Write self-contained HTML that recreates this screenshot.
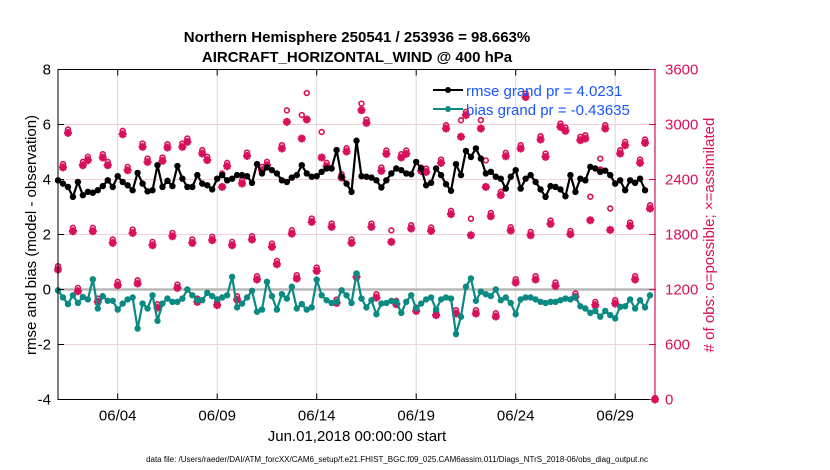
<!DOCTYPE html>
<html><head><meta charset="utf-8"><style>
body{margin:0;background:#fff;}
svg{display:block;font-family:"Liberation Sans",sans-serif;}
</style></head><body>
<svg id="chart" width="830" height="470" viewBox="0 0 830 470">
<text x="357" y="42" text-anchor="middle" font-size="15" font-weight="bold">Northern Hemisphere 250541 / 253936 = 98.663%</text>
<text x="357" y="62" text-anchor="middle" font-size="15" font-weight="bold">AIRCRAFT_HORIZONTAL_WIND @ 400 hPa</text>
<g id="grid"></g>
<g id="marks"></g>
<g id="axes"></g>
<text transform="translate(36,235) rotate(-90)" text-anchor="middle" font-size="15">rmse and bias (model - observation)</text>
<text transform="translate(714,235) rotate(-90)" text-anchor="middle" font-size="15" fill="#d80f5a"># of obs: o=possible; ×=assimilated</text>
<text x="357" y="441" text-anchor="middle" font-size="15">Jun.01,2018 00:00:00 start</text>
<text x="397" y="462" text-anchor="middle" font-size="8">data file: /Users/raeder/DAI/ATM_forcXX/CAM6_setup/f.e21.FHIST_BGC.f09_025.CAM6assim.011/Diags_NTrS_2018-06/obs_diag_output.nc</text>
<g>
<line x1="433" y1="90" x2="463" y2="90" stroke="#000" stroke-width="2"/>
<circle cx="448" cy="90" r="3" fill="#000"/>
<text x="466" y="96" font-size="15" fill="#1a55ff">rmse grand pr = 4.0231</text>
<line x1="433" y1="109" x2="463" y2="109" stroke="#0a8a82" stroke-width="2"/>
<circle cx="448" cy="109" r="3" fill="#0a8a82"/>
<text x="466" y="115" font-size="15" fill="#1a55ff">bias grand pr = -0.43635</text>
</g>
</svg>
<script>
const xTickLabels=["06/04","06/09","06/14","06/19","06/24","06/29"];
const xTickDays=[3,8,13,18,23,28];
const leftTicks=[-4,-2,0,2,4,6,8];
const rightTicks=[0,600,1200,1800,2400,3000,3600];
const rmse=[3.97,3.85,3.73,3.37,3.91,3.43,3.55,3.52,3.61,3.76,3.97,3.73,4.12,3.91,3.79,3.61,4.24,3.85,3.57,3.61,4.52,3.73,3.95,3.76,4.49,4.03,3.73,3.73,4.16,3.85,3.79,3.64,4.03,4.16,3.97,4.03,4.16,4.16,4.12,3.88,4.56,
4.22,4.44,4.34,4.22,3.97,3.91,4.07,4.16,4.52,4.22,4.1,4.12,4.28,4.4,4.4,5.07,4.1,3.85,3.55,5.41,4.12,4.1,4.07,3.97,3.71,3.97,4.22,4.4,4.34,4.22,4.19,4.64,4.4,3.79,3.88,4.4,4.16,3.83,3.59,
4.56,4.16,5.04,4.82,5.13,4.76,4.22,4.28,4.1,4.03,3.67,4.1,4.34,3.67,4.03,4.16,3.91,3.64,3.37,3.76,3.73,3.64,3.39,4.16,3.55,4.03,3.97,4.46,4.4,4.28,4.32,4.16,3.85,3.97,3.61,3.97,3.88,4.03,3.61];
const bias=[-0.03,-0.29,-0.53,-0.21,-0.49,-0.27,-0.36,0.37,-0.69,-0.24,-0.41,-0.41,-0.73,-0.51,-0.36,-0.29,-1.42,-0.51,-0.69,-0.21,-1.14,-0.51,-0.33,-0.45,-0.45,-0.33,0.0,-0.21,-0.39,-0.39,-0.12,-0.24,-0.36,-0.29,-0.21,0.46,-0.65,-0.51,-0.29,-0.05,-0.81,
-0.73,0.28,-0.24,-0.73,-0.17,-0.33,0.1,-0.69,-0.53,-0.73,-0.65,0.36,-0.21,-0.39,-0.49,-0.45,-0.03,-0.21,-0.49,0.58,-0.33,-0.65,-0.39,-0.9,-0.51,-0.49,-0.41,-0.45,-0.85,-0.45,-0.21,-0.69,-0.51,-0.36,-0.29,-0.73,-0.36,-0.29,-0.33,-1.62,
-0.99,0.1,0.4,-0.41,-0.08,-0.17,-0.24,0.0,-0.39,-0.29,-0.49,-0.9,-0.36,-0.29,-0.29,-0.36,-0.45,-0.49,-0.45,-0.45,-0.39,-0.33,-0.36,-0.27,-0.61,-0.69,-0.85,-0.78,-0.99,-0.78,-0.93,-1.05,-0.63,-0.61,-0.36,-0.69,-0.39,-0.65,-0.21];
const assimilated=[1418,2532,2909,1836,1181,2556,2611,1836,1065,2640,2556,1709,1247,2894,2501,1818,1265,2756,2592,1683,1003,2603,2749,1781,1218,2756,2811,1709,1065,2684,2611,1738,1029,2319,2545,1683,1090,2356,2658,1745,1309,
2501,2556,1665,1476,2738,3029,1810,1320,2847,3054,1938,1403,2640,2545,1883,1054,2421,2705,1709,1338,3156,3018,1883,1112,2494,2680,1720,1040,2640,2680,1865,967,2494,2483,1840,920,2581,2956,2022,938,
2866,3102,1792,938,2956,2319,1999,905,2229,2654,1843,1276,2738,3300,1792,1309,2836,2647,1916,1240,2974,2931,1803,1120,2829,2847,1956,1029,2501,2956,1850,1047,2683,2774,1894,1309,2581,2800,2083,0];
const possible=[1438,2552,2929,1856,1201,2576,2631,1856,1085,2660,2576,1729,1267,2914,2521,1838,1285,2776,2612,1703,1023,2623,2769,1801,1238,2776,2831,1729,1085,2704,2631,1758,1049,2449,2565,1703,1110,2376,2678,1765,1329,
2521,2576,1685,1496,2758,3138,1830,1340,3087,3327,1958,1423,2902,2565,1903,1074,2441,2725,1729,1358,3211,3038,1903,1132,2514,2700,1829,1060,2660,2700,1885,987,2514,2503,1860,940,2601,2976,2042,958,
3030,3122,1956,958,3032,2592,2019,925,2249,2674,1863,1296,2758,3320,1812,1329,2856,2667,1936,1260,2994,2951,1823,1140,2849,2867,2196,1049,2611,2976,2068,1067,2703,2794,1914,1329,2601,2820,2103,0];

const NS="http://www.w3.org/2000/svg";
const L=58,R=655,T=69.5,B=399.5;
const xs=d=>L+d*(R-L)/30;
const yl=v=>B-(v+4)*(B-T)/12;
const yr=c=>B-c*(B-T)/3600;
const MAG="#d80f5a",TEAL="#0a8a82";
function mk(tag,attrs,parent){const e=document.createElementNS(NS,tag);for(const k in attrs)e.setAttribute(k,attrs[k]);parent.appendChild(e);return e;}
const grid=document.getElementById('grid'),marks=document.getElementById('marks'),axes=document.getElementById('axes');
xTickDays.forEach(d=>{const l=mk('line',{x1:xs(d),x2:xs(d),y1:T,y2:B,stroke:'#d8d8d8','stroke-width':1},grid);

});
leftTicks.forEach(v=>{if(v===-4||v===8)return;const l=mk('line',{x1:L,x2:R,y1:yl(v),y2:yl(v),stroke:v===0?'#b8b8b8':'#f6cfdc','stroke-width':v===0?2.5:1},grid);

});
mk('rect',{x:L,y:T,width:R-L,height:B-T,fill:'none',stroke:'#000','stroke-width':1},axes);
mk('line',{x1:R,x2:R,y1:T,y2:B,stroke:MAG,'stroke-width':1.2},axes);
xTickDays.forEach((d,i)=>{mk('line',{x1:xs(d),x2:xs(d),y1:B,y2:B-6,stroke:'#000'},axes);mk('line',{x1:xs(d),x2:xs(d),y1:T,y2:T+6,stroke:'#000'},axes);
const t=mk('text',{x:xs(d),y:B+21,'text-anchor':'middle','font-size':15},axes);t.textContent=xTickLabels[i];

});
leftTicks.forEach(v=>{mk('line',{x1:L,x2:L+6,y1:yl(v),y2:yl(v),stroke:'#000'},axes);
const t=mk('text',{x:L-7,y:yl(v)+5,'text-anchor':'end','font-size':15},axes);t.textContent=v;

});
rightTicks.forEach(c=>{mk('line',{x1:R-6,x2:R+1,y1:yr(c),y2:yr(c),stroke:MAG},axes);
const t=mk('text',{x:R+10,y:yr(c)+5,'text-anchor':'start','font-size':15,fill:MAG},axes);t.textContent=c;

});
const step=0.25;
assimilated.forEach((c,i)=>{const x=xs(i*step),y=yr(c),yp=yr(possible[i])-1.5;
const g=mk('g',{},marks);


mk('circle',{cx:x,cy:yp,r:2.4,fill:'none',stroke:MAG,'stroke-width':1.6},g);
const s=4;
mk('path',{d:`M${x-s} ${y}H${x+s}M${x} ${y-s}V${y+s}M${x-s*0.7} ${y-s*0.7}L${x+s*0.7} ${y+s*0.7}M${x-s*0.7} ${y+s*0.7}L${x+s*0.7} ${y-s*0.7}`,stroke:MAG,'stroke-width':2.3,fill:'none'},g);});
function series(arr,color,name){const pts=arr.map((v,i)=>[xs(i*step),yl(v)]);
const p=mk('polyline',{points:pts.map(p=>p.join(',')).join(' '),fill:'none',stroke:color,'stroke-width':2.2,'stroke-linejoin':'round'},marks);


pts.forEach(q=>{const c=mk('circle',{cx:q[0],cy:q[1],r:3.2,fill:color},marks);

});}
series(rmse,'#000','rmse');
series(bias,TEAL,'bias');
document.getElementById('chart').appendChild(axes);
</script>
</body></html>
